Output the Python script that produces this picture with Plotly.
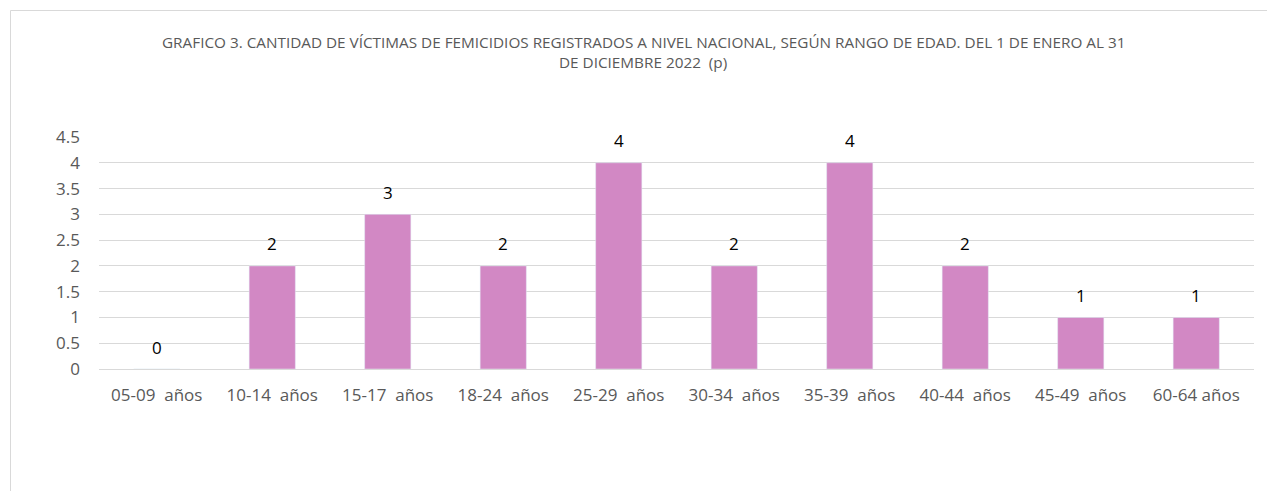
import plotly.graph_objects as go

categories = ["05-09  años", "10-14  años", "15-17  años", "18-24  años", "25-29  años",
              "30-34  años", "35-39  años", "40-44  años", "45-49  años", "60-64 años"]
values = [0, 2, 3, 2, 4, 2, 4, 2, 1, 1]
y_ticks = [0, 0.5, 1, 1.5, 2, 2.5, 3, 3.5, 4, 4.5]
title_lines = ["GRAFICO 3. CANTIDAD DE VÍCTIMAS DE FEMICIDIOS REGISTRADOS A NIVEL NACIONAL, SEGÚN RANGO DE EDAD. DEL 1 DE ENERO AL 31",
               "DE DICIEMBRE 2022  (p)"]

W, H = 1267, 491
ml, mr, mt, mb = 99, 13, 137, 122
pw, ph = W - ml - mr, H - mt - mb
FONT = "Open Sans, Lato, sans-serif"

fig = go.Figure()
fig.add_trace(go.Bar(x=categories, y=values, marker_color="#D288C4", width=0.4,
                     hoverinfo="x+y"))

for c, v in zip(categories, values):
    fig.add_annotation(x=c, y=v, text=str(v), showarrow=False, yshift=22,
                       font=dict(family=FONT, size=17, color="#000000"))

for i, (line, ypix) in enumerate(zip(title_lines, [42, 62])):
    fig.add_annotation(x=(643 - ml) / pw, xref="paper", y=1 + (mt - ypix) / ph, yref="paper",
                       yanchor="middle", xanchor="center",
                       text=line, showarrow=False,
                       font=dict(family=FONT, size=15.3, color="#595959"))

fig.add_shape(type="rect", xref="paper", yref="paper",
              x0=(10.5 - ml) / pw, x1=(W + 20 - ml) / pw,
              y0=-(mb + 20) / ph, y1=1 + (mt - 10.5) / ph,
              line=dict(color="#D9D9D9", width=1), fillcolor="rgba(0,0,0,0)", layer="below")

fig.update_layout(
    width=W, height=H,
    margin=dict(l=ml, r=mr, t=mt, b=mb, pad=0),
    plot_bgcolor="white", paper_bgcolor="white",
    showlegend=False,
    font=dict(family=FONT, size=17, color="#595959"),
    xaxis=dict(showgrid=False, showline=False, ticks="", tickfont=dict(size=17, color="#595959"),
               ticklabelstandoff=14),
    yaxis=dict(range=[0, 4.5], tickvals=y_ticks, ticktext=[f"{t:g}" for t in y_ticks],
               showgrid=True, gridcolor="#D9D9D9", gridwidth=1, zeroline=True,
               zerolinecolor="#D9D9D9", zerolinewidth=1, showline=False, ticks="",
               tickfont=dict(size=17, color="#595959"), ticklabelstandoff=18),
)

fig.write_html("out.html", config={"displayModeBar": False},
               post_script="document.body.style.margin='0px';document.body.style.overflow='hidden';")
